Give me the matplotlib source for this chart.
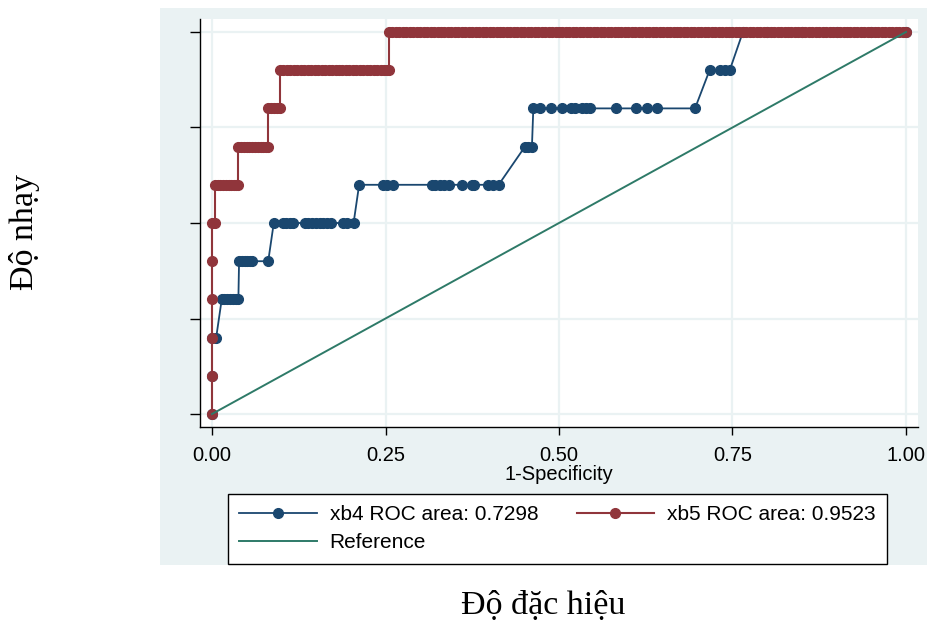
import matplotlib.pyplot as plt
from matplotlib.lines import Line2D

# ROC data: sensitivity levels and the 1-specificity points on each level
xb4_levels = [0.0, 0.1, 0.2, 0.3, 0.4, 0.5, 0.6, 0.7, 0.8, 0.9, 1.0]
xb4_fpr = [
    [0.0],
    [0.0],
    [0.0, 0.006],
    [0.014, 0.018, 0.022, 0.026, 0.030, 0.034, 0.038],
    [0.039, 0.043, 0.047, 0.051, 0.055, 0.058, 0.081],
    [0.089, 0.103, 0.107, 0.112, 0.117, 0.134, 0.139, 0.144, 0.150, 0.155,
     0.160, 0.166, 0.172, 0.189, 0.195, 0.204],
    [0.212, 0.247, 0.252, 0.261, 0.317, 0.322, 0.328, 0.334, 0.341, 0.360,
     0.374, 0.377, 0.398, 0.405, 0.413],
    [0.451, 0.456, 0.461],
    [0.463, 0.473, 0.488, 0.505, 0.518, 0.523, 0.533, 0.539, 0.545, 0.582,
     0.611, 0.627, 0.641, 0.696],
    [0.717, 0.732, 0.739, 0.746],
    [0.765, 0.80, 0.85, 0.90, 0.95, 1.0],
]

xb5_levels = [0.0, 0.1, 0.2, 0.3, 0.4, 0.5, 0.6, 0.7, 0.8, 0.9, 1.0]
xb5_fpr = [
    [0.0],
    [0.0],
    [0.0],
    [0.0],
    [0.0],
    [0.0, 0.004],
    [0.004, 0.008, 0.012, 0.016, 0.020, 0.024, 0.028, 0.032, 0.035, 0.038],
    [0.038, 0.042, 0.046, 0.050, 0.054, 0.058, 0.062, 0.066, 0.070, 0.074,
     0.078, 0.081],
    [0.081, 0.085, 0.089, 0.094, 0.098],
    [0.098, 0.103, 0.108, 0.113, 0.118, 0.123, 0.128, 0.133, 0.138, 0.143,
     0.148, 0.153, 0.158, 0.163, 0.168, 0.173, 0.178, 0.183, 0.188, 0.193,
     0.198, 0.203, 0.208, 0.213, 0.218, 0.223, 0.228, 0.233, 0.238, 0.243,
     0.248, 0.252, 0.255],
    [0.255, 0.260, 0.265, 0.270, 0.275, 0.280, 0.285, 0.290, 0.295, 0.300,
     0.305, 0.310, 0.315, 0.320, 0.325, 0.330, 0.335, 0.340, 0.345, 0.350,
     0.355, 0.360, 0.365, 0.370, 0.375, 0.380, 0.385, 0.390, 0.395, 0.400,
     0.405, 0.410, 0.415, 0.420, 0.425, 0.430, 0.435, 0.440, 0.445, 0.450,
     0.455, 0.460, 0.465, 0.470, 0.475, 0.480, 0.485, 0.490, 0.495, 0.500,
     0.505, 0.510, 0.515, 0.520, 0.525, 0.530, 0.535, 0.540, 0.545, 0.550,
     0.555, 0.560, 0.565, 0.570, 0.575, 0.580, 0.585, 0.590, 0.595, 0.600,
     0.605, 0.610, 0.615, 0.620, 0.625, 0.630, 0.635, 0.640, 0.645, 0.650,
     0.655, 0.660, 0.665, 0.670, 0.675, 0.680, 0.685, 0.690, 0.695, 0.700,
     0.705, 0.710, 0.715, 0.720, 0.725, 0.730, 0.735, 0.740, 0.745, 0.750,
     0.755, 0.760, 0.765, 0.770, 0.775, 0.780, 0.785, 0.790, 0.795, 0.800,
     0.805, 0.810, 0.815, 0.820, 0.825, 0.830, 0.835, 0.840, 0.845, 0.850,
     0.855, 0.860, 0.865, 0.870, 0.875, 0.880, 0.885, 0.890, 0.895, 0.900,
     0.905, 0.910, 0.915, 0.920, 0.925, 0.930, 0.935, 0.940, 0.945, 0.950,
     0.955, 0.960, 0.965, 0.970, 0.975, 0.980, 0.985, 0.990, 0.995, 1.000],
]

ref_x = [0.0, 1.0]
ref_y = [0.0, 1.0]

xticks = [0.0, 0.25, 0.5, 0.75, 1.0]
xtick_labels = ["0.00", "0.25", "0.50", "0.75", "1.00"]
yticks = [0.0, 0.25, 0.5, 0.75, 1.0]

labels = ["xb4 ROC area: 0.7298", "xb5 ROC area: 0.9523", "Reference"]


def flatten(levels, fprs):
    xs, ys = [], []
    for lev, pts in zip(levels, fprs):
        xs += pts
        ys += [lev] * len(pts)
    return xs, ys


xb4_x, xb4_y = flatten(xb4_levels, xb4_fpr)
xb5_x, xb5_y = flatten(xb5_levels, xb5_fpr)

navy = "#1a476f"
maroon = "#90353b"
teal = "#2e7a68"
panel = "#eaf2f3"
ms = 7

W, H = 927, 624
fig = plt.figure(figsize=(W / 100, H / 100), dpi=100)

# light Stata-style panel behind the graph
bg = fig.add_axes([160 / W, 1 - 565 / H, (W - 160) / W, (565 - 8) / H], zorder=-10)
bg.set_facecolor(panel)
bg.set_xticks([])
bg.set_yticks([])
for s in bg.spines.values():
    s.set_visible(False)

ax = fig.add_axes([200 / W, 1 - 427 / H, (918 - 200) / W, (427 - 19) / H])
ax.set_facecolor("white")

ax.plot(xb4_x, xb4_y, color=navy, lw=1.3, marker="o", markersize=ms, zorder=3)
ax.plot(xb5_x, xb5_y, color=maroon, lw=1.5, marker="o", markersize=ms, zorder=4)
ax.plot(ref_x, ref_y, color=teal, lw=1.4, zorder=5)

ax.set_xlim(-0.0173, 1.0173)
ax.set_ylim(-0.034, 1.034)
ax.set_xticks(xticks)
ax.set_xticklabels(xtick_labels, fontsize=14.5, family="Liberation Sans")
ax.set_yticks(yticks)
ax.set_yticklabels([])
ax.tick_params(axis="x", length=6, width=1, pad=8)
ax.tick_params(axis="y", length=7, width=1)
ax.grid(True, color=panel, lw=1.6)
ax.set_axisbelow(True)
for s in ["top", "right"]:
    ax.spines[s].set_visible(False)
for s in ["left", "bottom"]:
    ax.spines[s].set_color("black")
    ax.spines[s].set_linewidth(1)

ax.set_xlabel("1-Specificity", fontsize=14.5, family="Liberation Sans", labelpad=0)

h4 = Line2D([], [], color=navy, lw=1.3, marker="o", markersize=ms)
h5 = Line2D([], [], color=maroon, lw=1.5, marker="o", markersize=ms)
hr = Line2D([], [], color=teal, lw=1.4)
leg = fig.legend([h4, hr, h5], [labels[0], labels[2], labels[1]], ncol=2,
                 loc="upper left", bbox_to_anchor=(228 / W, 1 - 494 / H, (887 - 228) / W, 0),
                 mode="expand", borderaxespad=0, fancybox=False, framealpha=1,
                 edgecolor="black", handlelength=3.7, handletextpad=0.63,
                 labelspacing=0.42, borderpad=0.55,
                 prop={"family": "Liberation Sans", "size": 15})
leg.get_frame().set_linewidth(1)

serif = ["Liberation Serif", "DejaVu Serif"]
fig.text(25 / W, 1 - 232 / H, "Độ nhạy", rotation=90, ha="center", va="center",
         fontsize=24.5, family=serif)
fig.text(543 / W, 1 - 606 / H, "Độ đặc hiệu", ha="center", va="center",
         fontsize=24.5, family=serif)

fig.savefig("out.png", dpi=100, facecolor="white")
